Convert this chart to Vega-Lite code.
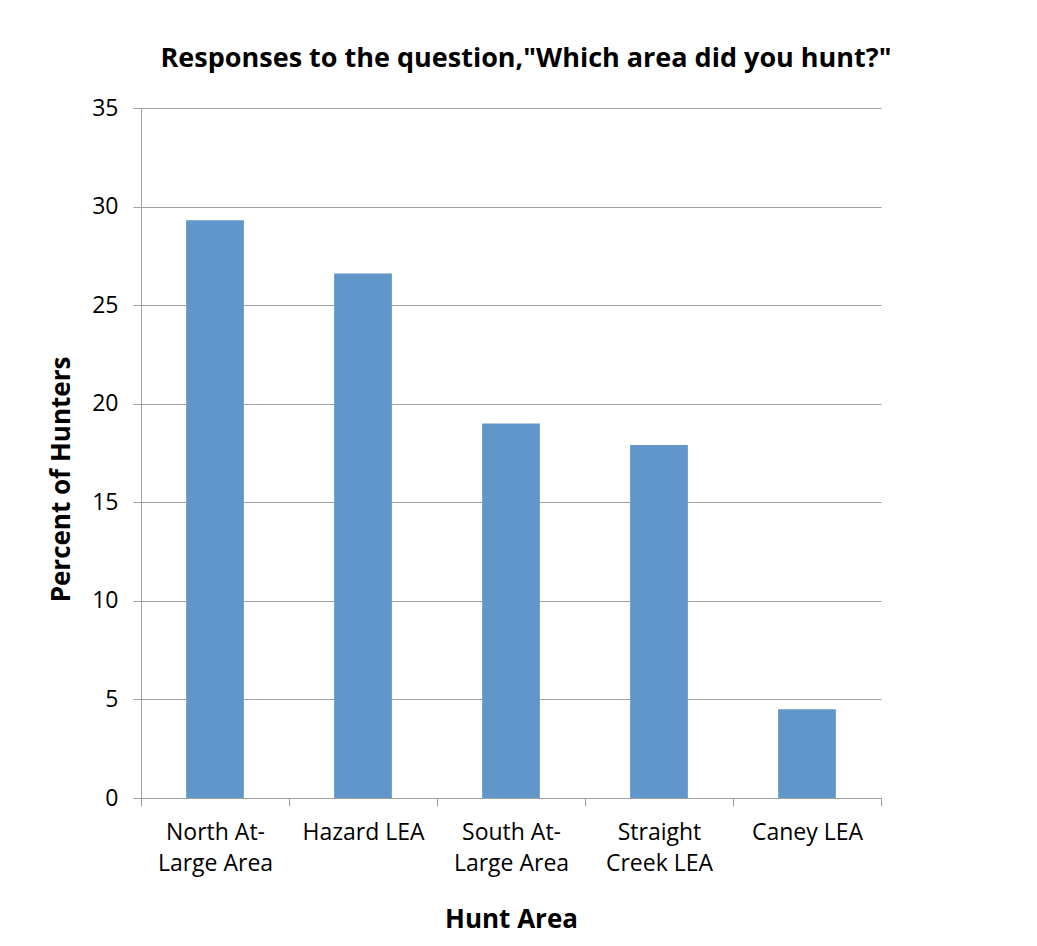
{
  "$schema": "https://vega.github.io/schema/vega-lite/v6.json",
  "width": 740,
  "height": 690,
  "autosize": {"type": "none"},
  "padding": {"left": 141, "top": 108, "right": 156, "bottom": 148},
  "background": "white",
  "config": {
    "font": "Open Sans",
    "view": {"stroke": null}
  },
  "title": {
    "text": "Responses to the question,\"Which area did you hunt?\"",
    "font": "Open Sans",
    "fontSize": 27,
    "fontWeight": "bold",
    "color": "black",
    "anchor": "middle",
    "dx": 15,
    "offset": 24
  },
  "data": {
    "values": [
      {"area": "North At-Large Area", "percent": 29.3},
      {"area": "Hazard LEA", "percent": 26.6},
      {"area": "South At-Large Area", "percent": 19.0},
      {"area": "Straight Creek LEA", "percent": 17.9},
      {"area": "Caney LEA", "percent": 4.5}
    ]
  },
  "mark": {"type": "bar", "color": "#6196CA", "width": {"band": 0.39}},
  "encoding": {
    "x": {
      "field": "area",
      "type": "nominal",
      "sort": null,
      "scale": {"paddingInner": 0, "paddingOuter": 0},
      "axis": {
        "title": "Hunt Area",
        "titleFont": "Open Sans",
        "titleFontSize": 26,
        "titleFontWeight": "bold",
        "titleColor": "black",
        "titleBaseline": "middle",
        "titleY": 121,
        "labelAngle": 0,
        "labelFont": "Open Sans",
        "labelFontSize": 23,
        "labelColor": "black",
        "labelPadding": 15,
        "labelLineHeight": 31,
        "labelExpr": "datum.label == 'North At-Large Area' ? ['North At-', 'Large Area'] : datum.label == 'South At-Large Area' ? ['South At-', 'Large Area'] : datum.label == 'Straight Creek LEA' ? ['Straight', 'Creek LEA'] : datum.label",
        "tickBand": "extent",
        "ticks": true,
        "tickSize": 8,
        "tickColor": "#A0A0A0",
        "domainColor": "#A0A0A0",
        "grid": false
      }
    },
    "y": {
      "field": "percent",
      "type": "quantitative",
      "scale": {"domain": [0, 35], "nice": false},
      "axis": {
        "title": "Percent of Hunters",
        "titleFont": "Open Sans",
        "titleFontSize": 26,
        "titleFontWeight": "bold",
        "titleColor": "black",
        "titleAngle": -90,
        "titleAlign": "center",
        "titleBaseline": "middle",
        "titleX": -80,
        "titleY": 371,
        "values": [0, 5, 10, 15, 20, 25, 30, 35],
        "labelFont": "Open Sans",
        "labelFontSize": 23,
        "labelColor": "black",
        "labelPadding": 15,
        "tickSize": 8,
        "tickColor": "#A0A0A0",
        "domainColor": "#A0A0A0",
        "grid": true,
        "gridColor": "#A0A0A0"
      }
    }
  }
}
